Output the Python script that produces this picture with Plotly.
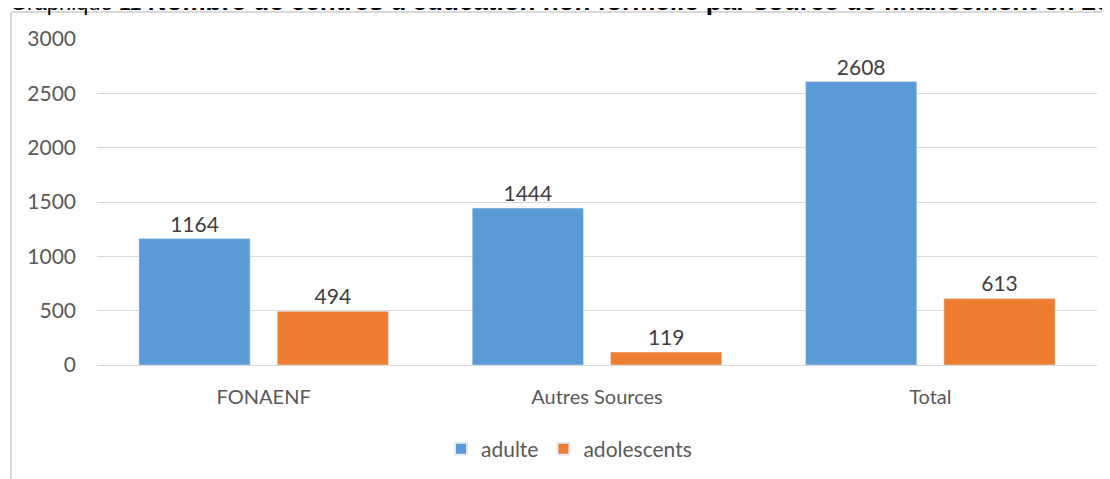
import plotly.graph_objects as go

categories = ["FONAENF", "Autres Sources", "Total"]
adulte = [1164, 1444, 2608]
adolescents = [494, 119, 613]
y_ticks = [0, 500, 1000, 1500, 2000, 2500, 3000]

OFF = 8  # page body margin
W, H = 1110 - OFF, 479 - OFF
L, T = 97 - OFF, 39 - OFF
R = W - (1097 - OFF)
B = H - (365 - OFF)
ph = H - T - B
pw = W - L - R

def px_x(x):
    # x in screen pixels
    return (x - OFF - L) / pw

def px_y(y):
    return (H - B - (y - OFF)) / ph

font = "Lato, 'Open Sans', sans-serif"

fig = go.Figure()
fig.add_bar(x=categories, y=adulte, name="adulte", marker_color="#5B9BD5",
            text=adulte, textposition="outside", cliponaxis=False,
            textfont=dict(size=21, color="#404040", family=font))
fig.add_bar(x=categories, y=adolescents, name="adolescents", marker_color="#ED7D31",
            text=adolescents, textposition="outside", cliponaxis=False,
            textfont=dict(size=21, color="#404040", family=font))

fig.update_layout(
    width=W, height=H,
    margin=dict(l=L, r=R, t=T, b=B, autoexpand=False),
    paper_bgcolor="white", plot_bgcolor="white",
    barmode="group", bargap=0.17, bargroupgap=0.196,
    font=dict(family=font, size=20, color="#595959"),
    showlegend=True,
    legend=dict(orientation="h", x=px_x(569), xanchor="center", y=px_y(449), yanchor="middle",
                font=dict(size=21, color="#595959"), itemsizing="constant", itemwidth=30),
    xaxis=dict(showline=False, ticks="", ticklabelstandoff=18,
               tickfont=dict(size=20, color="#595959")),
    yaxis=dict(range=[0, 3000], tickvals=y_ticks, showgrid=True, gridcolor="#D9D9D9",
               gridwidth=1, zeroline=True, zerolinecolor="#D9D9D9", zerolinewidth=1,
               ticks="", ticklabelstandoff=20, tickfont=dict(size=21, color="#595959")),
    shapes=[
        dict(type="line", xref="paper", yref="paper", x0=px_x(11), x1=px_x(1120),
             y0=px_y(12), y1=px_y(12), line=dict(color="#D9D9D9", width=2)),
        dict(type="line", xref="paper", yref="paper", x0=px_x(11), x1=px_x(11),
             y0=px_y(12), y1=px_y(490), line=dict(color="#D9D9D9", width=2)),
    ],
    annotations=[
        dict(xref="paper", yref="paper", x=px_x(8), y=px_y(18), xanchor="left", yanchor="bottom",
             showarrow=False,
             text="<span style='font-size:22px;font-weight:normal'>Graphique 11 </span><b>Nombre de centres d'éducation non formelle par source de financement en 2019</b>",
             font=dict(family="Arial, 'Liberation Sans', sans-serif", size=26, color="#000000")),
    ],
)

fig.write_html("out.html")
